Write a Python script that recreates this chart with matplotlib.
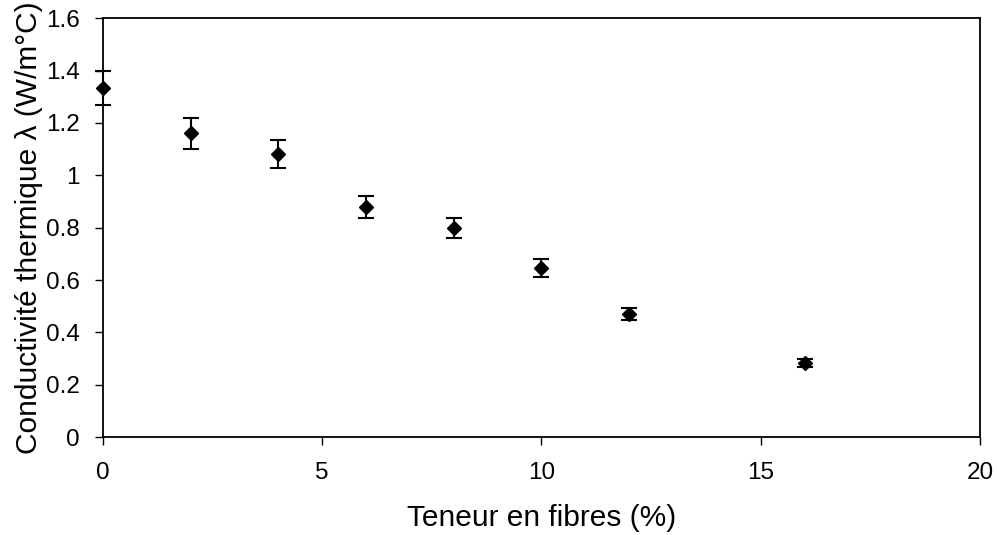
import matplotlib
matplotlib.use('Agg')
import matplotlib.pyplot as plt

plt.rcParams['font.family'] = ['Liberation Sans', 'DejaVu Sans']

# fibre content (%) and thermal conductivity with error
fibres = [0, 2, 4, 6, 8, 10, 12, 16]
conductivite = [1.332, 1.160, 1.082, 0.877, 0.799, 0.647, 0.470, 0.282]
erreur = [0.065, 0.058, 0.053, 0.042, 0.038, 0.034, 0.022, 0.015]

fig = plt.figure(figsize=(9.97, 5.35), dpi=100)
ax = fig.add_axes([0.1033, 0.183, 0.8796, 0.783])

ax.errorbar(fibres, conductivite, yerr=erreur, fmt='D', color='black',
            markersize=7.3, capsize=5.8, elinewidth=1.5, capthick=1.5,
            clip_on=False, zorder=3)

ax.set_xlim(0, 20)
ax.set_ylim(0, 1.6)
ax.set_xticks([0, 5, 10, 15, 20])
ax.set_yticks([0, 0.2, 0.4, 0.6, 0.8, 1, 1.2, 1.4, 1.6])
ax.set_yticklabels(['0', '0.2', '0.4', '0.6', '0.8', '1', '1.2', '1.4', '1.6'])
ax.tick_params(direction='out', length=6, width=1, labelsize=17.5)
ax.tick_params(axis='y', pad=11)
ax.tick_params(axis='x', pad=12)
for s in ax.spines.values():
    s.set_linewidth(1.3)

ax.set_xlabel('Teneur en fibres (%)', fontsize=21.5, labelpad=14)
ax.set_ylabel('Conductivité thermique λ (W/m°C)', fontsize=21.5, labelpad=2)

fig.savefig('out.png', dpi=100)
